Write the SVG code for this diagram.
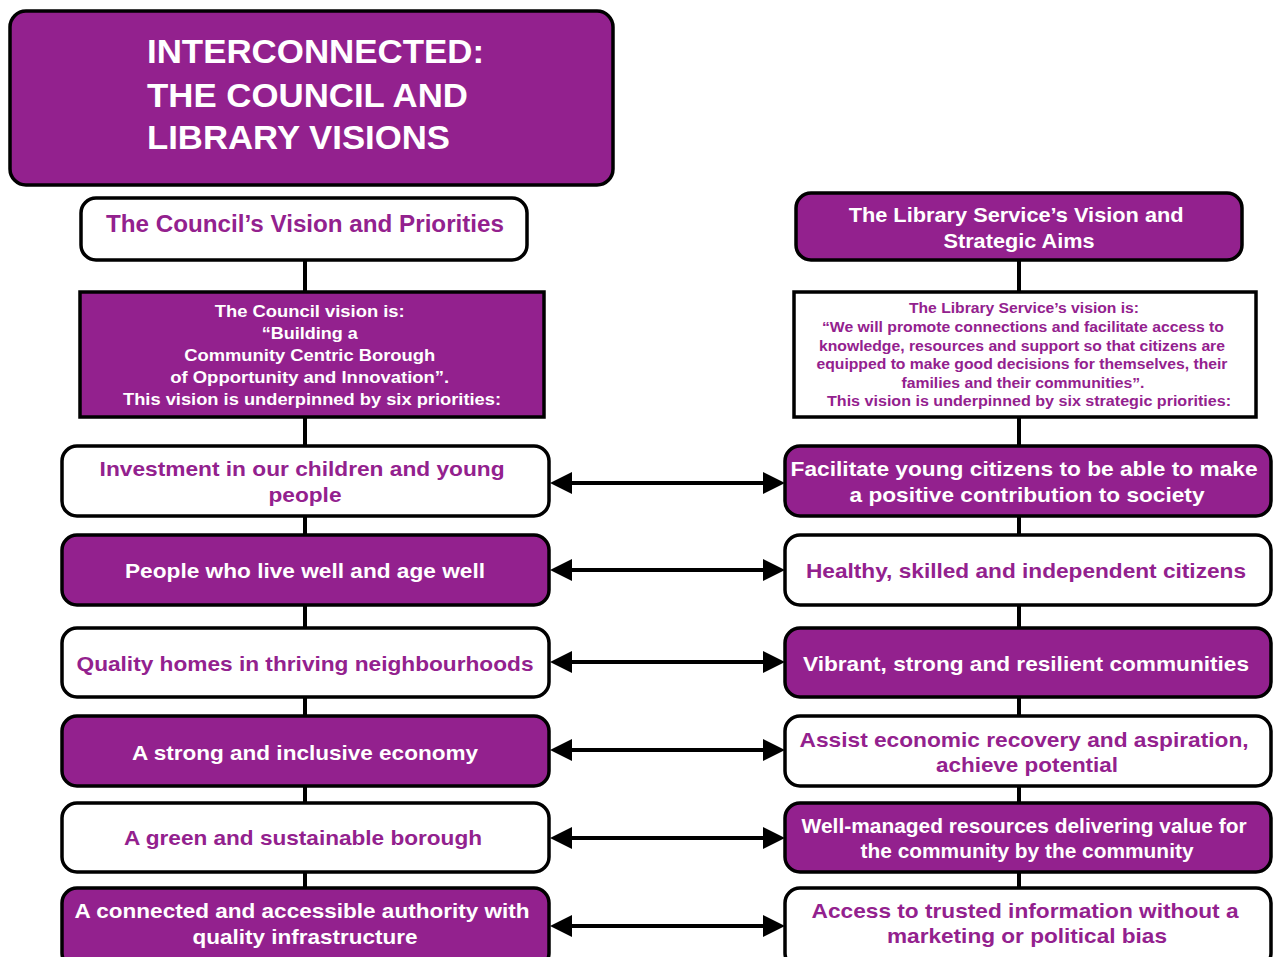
<svg xmlns="http://www.w3.org/2000/svg" width="1279" height="957" viewBox="0 0 1279 957">
  <style>
    .box { stroke: #000; stroke-width: 3.5; }
    .fill { fill: #93218E; }
    .open { fill: #fff; }
    text { font-family: "Liberation Sans", Arial, Helvetica, sans-serif; font-weight: bold; text-anchor: middle; }
    .w { fill: #fff; }
    .p { fill: #93218E; }
    .pri { font-size: 21px; }
    .link { stroke: #000; stroke-width: 4; fill: none; }
  </style>
  <defs>
    <marker id="head" viewBox="0 0 22 22" refX="18" refY="11" markerWidth="22" markerHeight="22" markerUnits="userSpaceOnUse" orient="auto-start-reverse">
      <path d="M0,0 L22,11 L0,22 Z" fill="#000"/>
    </marker>
  </defs>
  <rect width="1279" height="957" fill="#fff"/>

  <!-- connectors -->
  <g id="connectors">
    <line class="link" x1="305" y1="258" x2="305" y2="957"/>
    <line class="link" x1="1019" y1="258" x2="1019" y2="957"/>
    <line class="link" x1="554" y1="483" x2="781" y2="483" marker-start="url(#head)" marker-end="url(#head)"/>
    <line class="link" x1="554" y1="570" x2="781" y2="570" marker-start="url(#head)" marker-end="url(#head)"/>
    <line class="link" x1="554" y1="662" x2="781" y2="662" marker-start="url(#head)" marker-end="url(#head)"/>
    <line class="link" x1="554" y1="750" x2="781" y2="750" marker-start="url(#head)" marker-end="url(#head)"/>
    <line class="link" x1="554" y1="838" x2="781" y2="838" marker-start="url(#head)" marker-end="url(#head)"/>
    <line class="link" x1="554" y1="926" x2="781" y2="926" marker-start="url(#head)" marker-end="url(#head)"/>
  </g>

  <!-- title -->
  <g id="title">
    <rect class="box fill" x="10" y="11" width="603" height="174" rx="16" stroke-width="4"/>
    <text class="w" x="147" y="63" font-size="34" text-anchor="start" textLength="337" lengthAdjust="spacingAndGlyphs" style="text-anchor:start">INTERCONNECTED:</text>
    <text class="w" x="147" y="107" font-size="34" textLength="321" lengthAdjust="spacingAndGlyphs" style="text-anchor:start">THE COUNCIL AND</text>
    <text class="w" x="147" y="149" font-size="34" textLength="303" lengthAdjust="spacingAndGlyphs" style="text-anchor:start">LIBRARY VISIONS</text>
  </g>

  <!-- council column -->
  <g id="council-header">
    <rect class="box open" x="81" y="198" width="446" height="62" rx="15"/>
    <text class="p" x="305" y="232" font-size="23" textLength="398" lengthAdjust="spacingAndGlyphs">The Council’s Vision and Priorities</text>
  </g>
  <g id="council-vision">
    <rect class="box fill" x="80" y="292" width="464" height="125" stroke-width="4"/>
    <text class="w" font-size="16.5">
      <tspan x="312" y="317" textLength="190" lengthAdjust="spacingAndGlyphs">The Council vision is:</tspan>
      <tspan x="312" y="339" textLength="96" lengthAdjust="spacingAndGlyphs">“Building a</tspan>
      <tspan x="312" y="361" textLength="251" lengthAdjust="spacingAndGlyphs">Community Centric Borough</tspan>
      <tspan x="312" y="383" textLength="279" lengthAdjust="spacingAndGlyphs">of Opportunity and Innovation”.</tspan>
      <tspan x="312" y="405" textLength="378" lengthAdjust="spacingAndGlyphs">This vision is underpinned by six priorities:</tspan>
    </text>
  </g>

  <!-- library column -->
  <g id="library-header">
    <rect class="box fill" x="796" y="193" width="446" height="67" rx="15"/>
    <text class="w" font-size="20.5">
      <tspan x="1019" y="222" textLength="335" lengthAdjust="spacingAndGlyphs">The Library Service’s Vision and</tspan>
      <tspan x="1019" y="248" textLength="151" lengthAdjust="spacingAndGlyphs">Strategic Aims</tspan>
    </text>
  </g>
  <g id="library-vision">
    <rect class="box open" x="794" y="292" width="462" height="125" stroke-width="4"/>
    <text class="p" font-size="14.5">
      <tspan x="1026" y="313" textLength="230" lengthAdjust="spacingAndGlyphs">The Library Service’s vision is:</tspan>
      <tspan x="1025" y="332" textLength="402" lengthAdjust="spacingAndGlyphs">“We will promote connections and facilitate access to</tspan>
      <tspan x="1024" y="350.5" textLength="406" lengthAdjust="spacingAndGlyphs">knowledge, resources and support so that citizens are</tspan>
      <tspan x="1024" y="369" textLength="411" lengthAdjust="spacingAndGlyphs">equipped to make good decisions for themselves, their</tspan>
      <tspan x="1025" y="388" textLength="243" lengthAdjust="spacingAndGlyphs">families and their communities”.</tspan>
      <tspan x="1029" y="406" textLength="404" lengthAdjust="spacingAndGlyphs">This vision is underpinned by six strategic priorities:</tspan>
    </text>
  </g>

  <!-- council priorities -->
  <g id="council-1">
    <rect class="box open" x="62" y="446" width="487" height="70" rx="15"/>
    <text class="p pri">
      <tspan x="305" y="476" textLength="405" lengthAdjust="spacingAndGlyphs">Investment in our children and young</tspan>
      <tspan x="305" y="502" textLength="73" lengthAdjust="spacingAndGlyphs">people</tspan>
    </text>
  </g>
  <g id="council-2">
    <rect class="box fill" x="62" y="535" width="487" height="70" rx="15"/>
    <text class="w pri" x="305" y="578" textLength="360" lengthAdjust="spacingAndGlyphs">People who live well and age well</text>
  </g>
  <g id="council-3">
    <rect class="box open" x="62" y="628" width="487" height="69" rx="15"/>
    <text class="p pri" x="305" y="671" textLength="457" lengthAdjust="spacingAndGlyphs">Quality homes in thriving neighbourhoods</text>
  </g>
  <g id="council-4">
    <rect class="box fill" x="62" y="716" width="487" height="70" rx="15"/>
    <text class="w pri" x="305" y="760" textLength="346" lengthAdjust="spacingAndGlyphs">A strong and inclusive economy</text>
  </g>
  <g id="council-5">
    <rect class="box open" x="62" y="803" width="487" height="69" rx="15"/>
    <text class="p pri" x="303" y="845" textLength="358" lengthAdjust="spacingAndGlyphs">A green and sustainable borough</text>
  </g>
  <g id="council-6">
    <rect class="box fill" x="62" y="888" width="487" height="80" rx="15"/>
    <text class="w pri">
      <tspan x="305" y="918" textLength="455" lengthAdjust="spacingAndGlyphs">A connected and accessible authority with</tspan>
      <tspan x="305" y="944" textLength="225" lengthAdjust="spacingAndGlyphs">quality infrastructure</tspan>
    </text>
  </g>

  <!-- library priorities -->
  <g id="library-1">
    <rect class="box fill" x="785" y="446" width="486" height="70" rx="15"/>
    <text class="w pri">
      <tspan x="1027" y="476" textLength="467" lengthAdjust="spacingAndGlyphs">Facilitate young citizens to be able to make</tspan>
      <tspan x="1027" y="502" textLength="355" lengthAdjust="spacingAndGlyphs">a positive contribution to society</tspan>
    </text>
  </g>
  <g id="library-2">
    <rect class="box open" x="785" y="535" width="486" height="70" rx="15"/>
    <text class="p pri" x="1026" y="578" textLength="440" lengthAdjust="spacingAndGlyphs">Healthy, skilled and independent citizens</text>
  </g>
  <g id="library-3">
    <rect class="box fill" x="785" y="628" width="486" height="69" rx="15"/>
    <text class="w pri" x="1026" y="671" textLength="446" lengthAdjust="spacingAndGlyphs">Vibrant, strong and resilient communities</text>
  </g>
  <g id="library-4">
    <rect class="box open" x="785" y="716" width="486" height="70" rx="15"/>
    <text class="p pri">
      <tspan x="1027" y="747" textLength="449" lengthAdjust="spacingAndGlyphs">Assist economic recovery and aspiration,</tspan>
      <tspan x="1027" y="772" textLength="182" lengthAdjust="spacingAndGlyphs">achieve potential</tspan>
    </text>
  </g>
  <g id="library-5">
    <rect class="box fill" x="785" y="803" width="486" height="69" rx="15"/>
    <text class="w pri">
      <tspan x="1027" y="833" textLength="445" lengthAdjust="spacingAndGlyphs">Well-managed resources delivering value for</tspan>
      <tspan x="1027" y="858" textLength="333" lengthAdjust="spacingAndGlyphs">the community by the community</tspan>
    </text>
  </g>
  <g id="library-6">
    <rect class="box open" x="785" y="888" width="486" height="80" rx="15"/>
    <text class="p pri">
      <tspan x="1028" y="918" textLength="427" lengthAdjust="spacingAndGlyphs">Access to trusted information without a</tspan>
      <tspan x="1027" y="943" textLength="280" lengthAdjust="spacingAndGlyphs">marketing or political bias</tspan>
    </text>
  </g>
</svg>
